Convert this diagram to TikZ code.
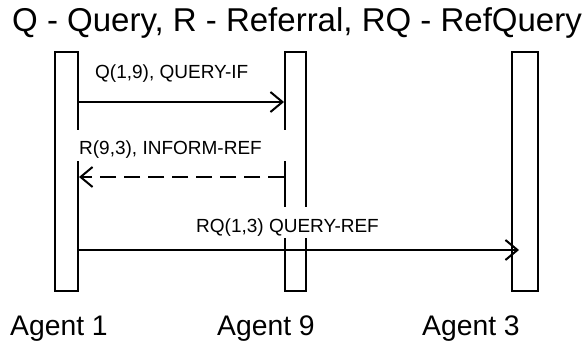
\documentclass[tikz,border=0pt]{standalone}
\usepackage{fontspec}
\setmainfont{Liberation Sans}
\usetikzlibrary{arrows.meta}

\tikzset{
  lifeline/.style={draw, line width=2pt, minimum width=#1, inner sep=0pt},
  msg/.style={line width=2pt, -{Straight Barb[length=12pt,width=20pt]}},
  reply/.style={msg, dash pattern=on 16pt off 8pt},
  msglabel/.style={anchor=base west, fill=white, inner xsep=4pt, inner ysep=5pt,
    text height=20pt, text depth=1pt, font=\fontsize{19}{22}\selectfont},
  agentname/.style={anchor=base west, inner sep=0pt, font=\fontsize{28.3}{32}\selectfont},
  heading/.style={anchor=base west, inner sep=0pt, font=\fontsize{33}{36}\selectfont}
}

\begin{document}
\begin{tikzpicture}[x=1pt, y=-1pt]
  \useasboundingbox (0,0) rectangle (585,347);

  % title
  \node[heading] (title) at (12,32) {Q - Query, R - Referral, RQ - RefQuery};

  % lifelines
  \node[lifeline=23pt, minimum height=239pt] (a1) at (66.5,171.5) {};
  \node[lifeline=21pt, minimum height=239pt] (a9) at (295.5,171.5) {};
  \node[lifeline=26pt, minimum height=239pt] (a3) at (525,171.5) {};

  % agent names
  \node[agentname] (n1) at (10,335) {Agent 1};
  \node[agentname] (n9) at (217,335) {Agent 9};
  \node[agentname] (n3) at (422,335) {Agent 3};

  % message labels (they mask the lifelines behind them)
  \node[msglabel] (l1) at (91,79) {Q(1,9), QUERY-IF};
  \node[msglabel] (l2) at (75,155) {\makebox[207pt][l]{R(9,3), INFORM-REF}};
  \node[msglabel] (l3) at (192,232) {RQ(1,3) QUERY-REF};

  % messages
  \draw[msg] (a1.east |- 0,102) -- (a9.west |- 0,102);
  \draw[reply] (a9.west |- 0,177) -- (a1.east |- 0,177);
  \draw[msg] (a1.east |- 0,250) -- ([xshift=8pt]a3.west |- 0,250);
\end{tikzpicture}
\end{document}
